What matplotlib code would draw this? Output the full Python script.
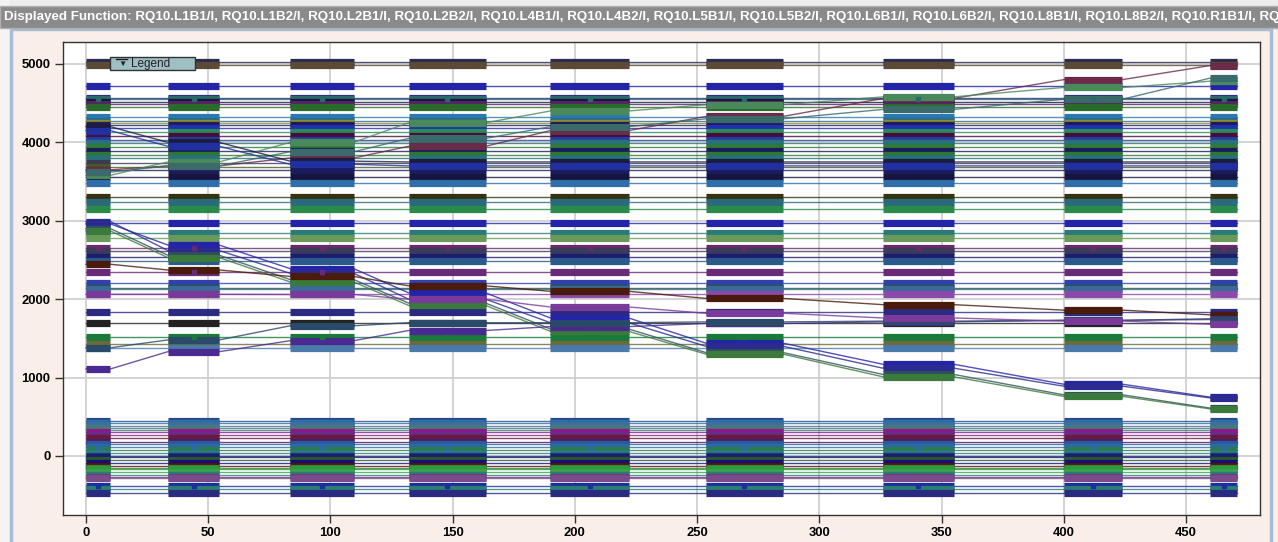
import numpy as np
import matplotlib.pyplot as plt
from matplotlib.collections import LineCollection
from matplotlib.patches import Rectangle

plt.rcParams['font.family'] = ['Liberation Sans', 'DejaVu Sans']

# logging windows: the samples only exist inside these x ranges
block_start = [0, 33.5, 83.5, 132, 190, 253.5, 326, 400, 460]
block_end = [10, 54.5, 109.5, 163.5, 222, 285, 355, 424, 471]

# circuits sitting at a steady current the whole time
flat_levels = [
    5020, 4990, 4724, 4570, 4555, 4520, 4490, 4455,
    4320, 4277, 4250, 4222, 4180, 4137, 4082, 4031, 3988, 3937, 3890, 3839, 3797, 3741, 3690, 3650,
    3560, 3480, 3300, 3245, 3147, 2968, 2848, 2777, 2649, 2610, 2542, 2491, 2351,
    2210, 2147, 2126, 2062, 1830, 1692, 1522, 1428, 1374,
    450, 417, 385, 353, 330, 302, 268, 226, 182, 150, 119, 77, 34, 5, -17, -51, -93, -124,
    -150, -170, -200, -242, -265, -285, -383, -425, -476,
]
flat_colors = [
    '#2b2b50', '#5a4a36', '#2424a8', '#2a2a8a', '#2a6a6a', '#151540', '#552266', '#2a6a2a',
    '#2a7ab0', '#2a6a8a', '#8a8a30', '#1c1c5c', '#2030b0', '#2a8a5a', '#4a0a3a', '#2040a0', '#2a707a',
    '#2d7a3a', '#1c1c5c', '#2a7a2a', '#2a707a', '#3a3a55', '#4a5a20', '#1c1c5c',
    '#151540', '#2f6ea8', '#333310', '#2a6a7a', '#2a8a4a', '#2424a8', '#2a7a7a', '#6a9a5a', '#6a2a6a',
    '#3a3a5a', '#1c1c70', '#2a5a8a', '#6a2a7a',
    '#3040b0', '#2a5a2a', '#3a6a9a', '#8a4aaa', '#2a2a80', '#222222', '#1a7a3a', '#6a6a3a', '#4a7aaa',
    '#2a4a8a', '#2a70a8', '#4a6a9a', '#3a7a8a', '#4a7a6a', '#8a1a8a', '#6a2a8a', '#6a1a3a', '#4a1a6a',
    '#2a5a9a', '#2a6aa8', '#2a7a4a', '#2a7a7a', '#1a3a8a', '#1c1c70', '#2a5a2a', '#101080', '#600a0a',
    '#2a8a3a', '#2a9a3a', '#3aa04a', '#2a7a7a', '#6a3a7a', '#7a4a8a', '#1a30a0', '#2a8070', '#2a2a80',
]

# circuits ramping during the run, one value per logging window
ramp_blue = [2960, 2690, 2390, 2080, 1760, 1440, 1170, 915, 750]
ramp_navy = [2990, 2620, 2330, 2000, 1700, 1400, 1120, 890, 740]
ramp_slate = [2900, 2560, 2250, 1950, 1620, 1320, 1040, 780, 610]
ramp_green = [2870, 2530, 2220, 1920, 1590, 1300, 1010, 760, 600]
ramp_brown = [2445, 2372, 2290, 2170, 2100, 2010, 1930, 1860, 1800]
ramp_purple_up = [1110, 1330, 1470, 1600, 1650, 1690, 1710, 1730, 1750]
ramp_navy_up = [1380, 1480, 1660, 1700, 1700, 1710, 1720, 1730, 1740]
ramp_purple_down = [2062, 2062, 2060, 2000, 1900, 1820, 1760, 1720, 1680]
ramp_maroon_up = [3650, 3700, 3800, 3950, 4150, 4330, 4560, 4800, 4980]
ramp_green_up = [3580, 3750, 4000, 4250, 4400, 4480, 4580, 4700, 4780]
ramp_teal_up = [3620, 3700, 3880, 4050, 4200, 4300, 4420, 4550, 4820]
ramp_dark_down = [4200, 4000, 3760, 3750, 3750, 3750, 3750, 3750, 3750]
ramp_blue_down = [4150, 3950, 3720, 3700, 3700, 3700, 3700, 3700, 3700]

ramps = [ramp_blue, ramp_navy, ramp_slate, ramp_green, ramp_brown, ramp_purple_up,
         ramp_navy_up, ramp_purple_down, ramp_maroon_up, ramp_green_up, ramp_teal_up,
         ramp_dark_down, ramp_blue_down]
ramp_colors = ['#2424a8', '#2a2a90', '#2f4f5f', '#3a7a3a', '#4a1a0a', '#4a2a90',
               '#2a4a6a', '#7a3a9a', '#6a2a4a', '#4a8a5a', '#3a6a6a', '#1c1c40', '#2030a0']

# series that also show single sample dots mid-window
dotted_levels = [2649, 2351, 1522, 119, -383, 4555]

fig = plt.figure(figsize=(12.78, 5.42), dpi=100, facecolor='#f9efe8')
W, H = 1278.0, 542.0

def px_rect(x0, y0, x1, y1, **kw):
    # rectangle given in pixel coords from the top-left corner
    fig.patches.append(Rectangle((x0 / W, 1 - y1 / H), (x1 - x0) / W, (y1 - y0) / H,
                                 transform=fig.transFigure, figure=fig, **kw))

px_rect(0, 0, W, 8, facecolor='#ececec', edgecolor='none')
px_rect(0, 0, 10, H, facecolor='#f4f4f4', edgecolor='none')
px_rect(11, 29, 1271, H + 2, facecolor='none', edgecolor='#a8bcd8', linewidth=2.5)
px_rect(0, 6, W, 28, facecolor='#8a8a8a', edgecolor='#b0b0b0', linewidth=1)

names = ['L1B1', 'L1B2', 'L2B1', 'L2B2', 'L4B1', 'L4B2', 'L5B1', 'L5B2', 'L6B1', 'L6B2',
         'L8B1', 'L8B2', 'R1B1']
title = 'Displayed Function: ' + ', '.join('RQ10.%s/I' % n for n in names) + ', RQ'
fig.text(4 / W, 1 - 17 / H, title, color='white', fontsize=9.6, fontweight='bold',
         va='center', ha='left')

ax = fig.add_axes([63 / W, 1 - 515 / H, (1260 - 63) / W, (515 - 42) / H])
ax.set_facecolor('white')

xs = []
for s, e in zip(block_start, block_end):
    xs += [s, e]

def draw_series(vals, color):
    ys = []
    for v in vals:
        ys += [v, v]
    ax.plot(xs, ys, color=color, lw=1.0, alpha=0.8, zorder=2)
    segs = [[(s, v), (e, v)] for s, e, v in zip(block_start, block_end, vals)]
    ax.add_collection(LineCollection(segs, colors=color, linewidths=5.2, zorder=3,
                                     capstyle='butt'))

for lvl, c in zip(flat_levels, flat_colors):
    draw_series([lvl] * len(block_start), c)
for vals, c in zip(ramps, ramp_colors):
    draw_series(vals, c)

mids = [(s + e) / 2 for s, e in zip(block_start, block_end)]
for lvl in dotted_levels:
    c = flat_colors[flat_levels.index(lvl)]
    ax.plot(mids, [lvl] * len(mids), 's', color=c, ms=3, zorder=4)

ax.set_xlim(-9.4, 480.3)
ax.set_ylim(-753, 5280)
ax.set_xticks(np.arange(0, 451, 50))
ax.set_yticks(np.arange(0, 5001, 1000))
ax.grid(True, color='#cccccc', lw=1.2, zorder=0)
ax.set_axisbelow(True)
ax.tick_params(direction='out', length=6, width=1, color='#333333', pad=3,
               labelsize=9.4)
for lab in ax.get_xticklabels() + ax.get_yticklabels():
    lab.set_fontweight('bold')
for sp in ax.spines.values():
    sp.set_color('#333333')
    sp.set_linewidth(1)

# collapsed legend button
ax.add_patch(Rectangle((110 / W, 1 - 70 / H), 85 / W, 13 / H, transform=fig.transFigure,
                       facecolor='#9ec0c4', edgecolor='#333333', lw=1, zorder=6, clip_on=False))
fig.text(118 / W, 1 - 64 / H, '\u25bc', fontsize=6, color='#222222', va='center', ha='left', zorder=7)
fig.lines.append(plt.Line2D([116 / W, 127 / W], [1 - 59 / H, 1 - 59 / H], transform=fig.transFigure,
                            color='#222222', lw=1))
fig.text(131 / W, 1 - 64 / H, 'Legend', fontsize=8.5, color='#222222', va='center', ha='left')

fig.savefig('out.png', dpi=100, facecolor=fig.get_facecolor())
